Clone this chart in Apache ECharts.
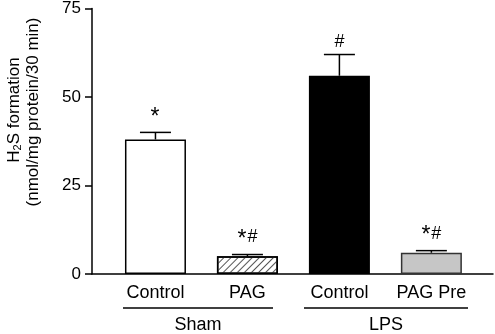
<!DOCTYPE html>
<html>
<head>
<meta charset="utf-8">
<script src="https://cdn.jsdelivr.net/npm/echarts@6/dist/echarts.min.js"></script>
<style>
  html, body { margin: 0; padding: 0; background: #fff; }
  #plot { width: 495px; height: 334px; }
</style>
</head>
<body>
<div id="plot"></div>
<script>
var labels = ['Control', 'PAG', 'Control', 'PAG Pre'];
var positions = [1, 2, 3, 4];
var means = [38.0, 5.0, 56.0, 6.0];
var errors = [2.0, 0.5, 6.0, 0.6];
var marks = ['*', '*#', '#', '*#'];
var yTicks = [0, 25, 50, 75];

var font = 'Liberation Sans, Arial, sans-serif';

// 每个柱子的样式
var barStyles = [
  { color: '#ffffff', borderColor: '#000', borderWidth: 1.5 },
  { color: '#ffffff', borderColor: '#000', borderWidth: 1.5,
    decal: { symbol: 'rect', symbolSize: 1, dashArrayX: [[1, 0]], dashArrayY: [1, 4], rotation: -Math.PI / 4, color: '#555' } },
  { color: '#000000', borderColor: '#000', borderWidth: 1.5 },
  { color: '#c6c6c6', borderColor: '#333', borderWidth: 1.5 }
];

var myChart = echarts.init(document.getElementById('plot'));

var barData = positions.map(function (x, i) {
  return {
    value: [x, means[i]],
    itemStyle: barStyles[i],
    label: {
      show: true,
      formatter: labels[i],
      position: ['50%', '100%'],
      align: 'center',
      verticalAlign: 'top',
      padding: [10, 0, 0, 0],
      color: '#000',
      fontSize: 18,
      fontFamily: font
    }
  };
});

var errData = positions.map(function (x, i) {
  return [x, means[i], errors[i], i];
});

// 把 * 单独放大, # 抬高对齐
function markText(s) {
  var both = s.length > 1;
  return s.split('').map(function (c) {
    if (c === '*') return '{st|*}';
    return both ? '{shu|' + c + '}' : '{sh|' + c + '}';
  }).join('');
}

var option = {
  animation: false,
  textStyle: { fontFamily: font },
  grid: { left: 92, right: 2, top: 8, bottom: 60 },
  xAxis: {
    type: 'value',
    min: 0.31,
    max: 4.67,
    axisLine: { show: true, lineStyle: { color: '#000', width: 1.5 } },
    axisTick: { show: false },
    axisLabel: { show: false },
    splitLine: { show: false }
  },
  yAxis: {
    type: 'value',
    min: yTicks[0],
    max: yTicks[yTicks.length - 1],
    interval: 25,
    axisLine: { show: true, lineStyle: { color: '#000', width: 1.5 } },
    axisTick: { show: true, inside: false, length: 7, lineStyle: { color: '#000', width: 1.5 } },
    axisLabel: { color: '#000', fontSize: 17, fontFamily: font, margin: 11 },
    splitLine: { show: false }
  },
  graphic: [
    {
      type: 'text', rotation: Math.PI / 2,
      x: 14, y: 110,
      style: {
        text: '{a|H}{s|2}{a|S formation}',
        rich: {
          a: { fontSize: 17, fontFamily: font, fill: '#000' },
          s: { fontSize: 11, fontFamily: font, fill: '#000', padding: [8, 0, 0, 0] }
        },
        align: 'center', verticalAlign: 'middle'
      }
    },
    {
      type: 'text', rotation: Math.PI / 2,
      x: 33, y: 112,
      style: {
        text: '(nmol/mg protein/30 min)',
        fontSize: 17, fontFamily: font, fill: '#000',
        align: 'center', verticalAlign: 'middle'
      }
    },
    { type: 'line', shape: { x1: 123, y1: 308, x2: 273, y2: 308 }, style: { stroke: '#000', lineWidth: 1.5 } },
    { type: 'line', shape: { x1: 304, y1: 308, x2: 468, y2: 308 }, style: { stroke: '#000', lineWidth: 1.5 } },
    { type: 'text', x: 198, y: 325, style: { text: 'Sham', fontSize: 18, fontFamily: font, fill: '#000', align: 'center', verticalAlign: 'middle' } },
    { type: 'text', x: 386, y: 325, style: { text: 'LPS', fontSize: 18, fontFamily: font, fill: '#000', align: 'center', verticalAlign: 'middle' } }
  ],
  series: [
    {
      type: 'bar',
      data: barData,
      barWidth: 61
    },
    {
      // 误差线和显著性标记
      type: 'custom',
      data: errData,
      z: 3,
      renderItem: function (params, api) {
        var x = api.value(0);
        var m = api.value(1);
        var e = api.value(2);
        var idx = api.value(3);
        var base = api.coord([x, m]);
        var top = api.coord([x, m + e]);
        var half = 15.5;
        return {
          type: 'group',
          children: [
            { type: 'line', shape: { x1: base[0], y1: base[1], x2: top[0], y2: top[1] }, style: { stroke: '#000', lineWidth: 1.5 } },
            { type: 'line', shape: { x1: top[0] - half, y1: top[1], x2: top[0] + half, y2: top[1] }, style: { stroke: '#000', lineWidth: 1.5 } },
            {
              type: 'text', x: top[0], y: top[1] - 3,
              style: {
                text: markText(marks[idx]),
                rich: {
                  st: { fontSize: 23, fontFamily: font, fill: '#000', padding: [0, 1, 0, 0] },
                  sh: { fontSize: 18, fontFamily: font, fill: '#000' },
                  shu: { fontSize: 18, fontFamily: font, fill: '#000', padding: [0, 0, 5, 0] }
                },
                align: 'center', verticalAlign: 'bottom'
              }
            }
          ]
        };
      }
    }
  ]
};

myChart.setOption(option);
</script>
</body>
</html>
